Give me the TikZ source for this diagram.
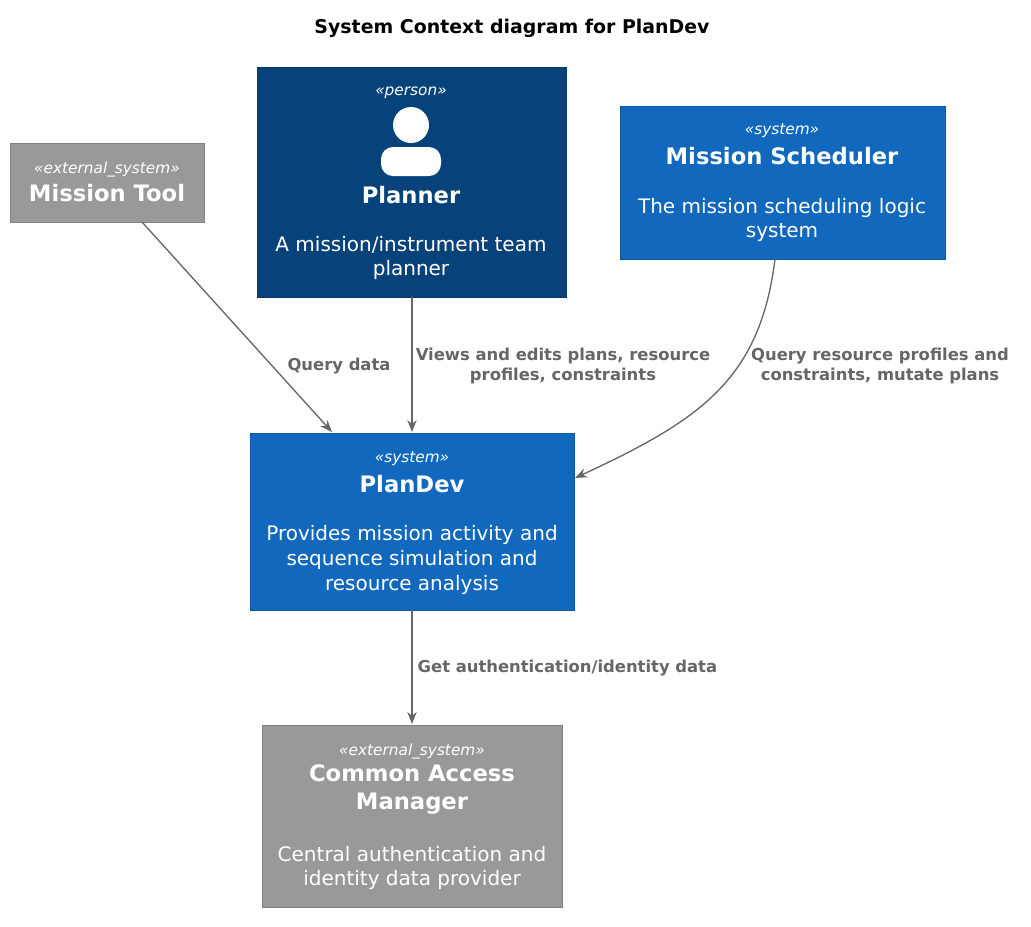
\documentclass[tikz,border=0pt]{standalone}
\usepackage{fontspec}
\setmainfont{DejaVu Sans}
\usetikzlibrary{arrows.meta}
\definecolor{ext}{HTML}{999999}
\definecolor{per}{HTML}{08427B}
\definecolor{sys}{HTML}{1168BD}
\definecolor{lbl}{HTML}{666666}
\begin{document}
\begin{tikzpicture}[x=0.75pt,y=-0.75pt,
  box/.style={draw=#1!85!black,line width=0.5pt,fill=#1,text=white,align=center,inner sep=0pt},
  st/.style={font=\fontsize{11.5}{14}\selectfont\itshape},
  nm/.style={font=\fontsize{17}{21}\selectfont\bfseries},
  ds/.style={font=\fontsize{15}{18.5}\selectfont},
  lb/.style={text=lbl,font=\fontsize{12.3}{15}\selectfont\bfseries,align=center},
  arr/.style={draw=lbl,line width=1pt,-{Stealth[length=9pt,width=7pt]}}]
\useasboundingbox (0,0) rectangle (1031,926);
\node[font=\fontsize{14.2}{17}\selectfont\bfseries] (title) at (512,28) {System Context diagram for PlanDev};
% boxes
\node[box=ext,minimum width=194*0.75pt,minimum height=79*0.75pt] (mt) at (107,182.5) {};
\node[box=per,minimum width=309*0.75pt,minimum height=230*0.75pt] (pl) at (411.5,182) {};
\node[box=sys,minimum width=325*0.75pt,minimum height=153*0.75pt] (ms) at (782.5,182.5) {};
\node[box=sys,minimum width=324*0.75pt,minimum height=177*0.75pt] (pd) at (412,521.5) {};
\node[box=ext,minimum width=300*0.75pt,minimum height=182*0.75pt] (cam) at (412,816) {};
% texts
\node[st,text=white] (t1) at (107,169) {«external\_system»};
\node[nm,text=white] (t2) at (107,193) {Mission Tool};
\node[st,text=white] (t3) at (411,93) {«person»};
\fill[white] (411,125) circle (18);
\fill[white,rounded corners=9pt] (381,176) rectangle (441,147);
\node[nm,text=white] (t4) at (411,195) {Planner};
\node[ds,text=white,align=center] (t5) at (411,258) {A mission/instrument team\\planner};
\node[st,text=white] (t6) at (782,131) {«system»};
\node[nm,text=white] (t7) at (782,156) {Mission Scheduler};
\node[ds,text=white,align=center] (t8) at (782,220) {The mission scheduling logic\\system};
\node[st,text=white] (t9) at (412,459) {«system»};
\node[nm,text=white] (t10) at (412,484) {PlanDev};
\node[ds,text=white,align=center] (t11) at (412,560) {Provides mission activity and\\sequence simulation and\\resource analysis};
\node[st,text=white] (t12) at (412,751) {«external\_system»};
\node[nm,text=white,align=center] (t13) at (412,790) {Common Access\\Manager};
\node[ds,text=white,align=center] (t14) at (412,868) {Central authentication and\\identity data provider};
% connectors
\coordinate (a1) at (142,222); \coordinate (b1) at (332,432);
\draw[arr] (a1) -- (b1);
\coordinate (a2) at (412,297); \coordinate (b2) at (412,432);
\draw[arr] (a2) -- (b2);
\coordinate (a3) at (775,259); \coordinate (b3) at (575,478);
\draw[arr] (a3) .. controls (760,380) and (700,420) .. (b3);
\coordinate (a4) at (412,610); \coordinate (b4) at (412,724);
\draw[arr] (a4) -- (b4);
\node[lb] (l1) at (339,366) {Query data};
\node[lb] (l2) at (563,366) {Views and edits plans, resource\\profiles, constraints};
\node[lb] (l3) at (880,366) {Query resource profiles and\\constraints, mutate plans};
\node[lb,anchor=west] (l4) at (413,668) {Get authentication/identity data};
\end{tikzpicture}
\end{document}
